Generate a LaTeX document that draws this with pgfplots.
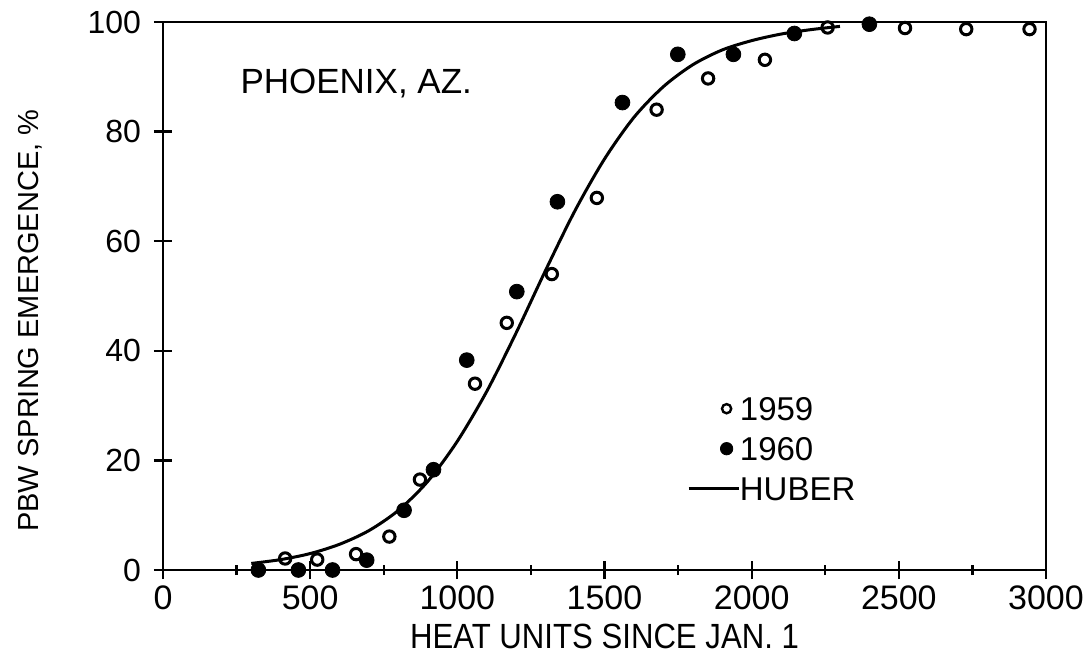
\documentclass[border=0pt]{standalone}
\usepackage{fontspec}
\setmainfont{Liberation Sans}
\usepackage{pgfplots}
\pgfplotsset{compat=1.18}
\begin{document}
\begin{tikzpicture}
\begin{axis}[
  scale only axis,
  width=441.5pt, height=274pt,
  xmin=0, xmax=3000, ymin=0, ymax=100,
  xtick={0,500,...,3000}, minor xtick={250,750,...,2750},
  ytick={0,20,...,100},
  xtick pos=bottom, ytick pos=left,
  tick align=center,
  major tick length=9pt, minor tick length=5pt,
  axis line style={line width=1.3pt},
  every tick/.append style={line width=1.1pt, black},
  /pgf/number format/assume math mode=true,
  /pgf/number format/1000 sep={},
  xticklabel style={font=\fontsize{17}{17}\selectfont},
  yticklabel style={font=\fontsize{16}{16}\selectfont, xshift=-3pt},
  clip=false,
  legend cell align=left,
  legend style={draw=none, fill=none, inner sep=0pt,
    at={(axis cs:1780,31.7)}, anchor=north west,
    row sep=8pt,
    nodes={inner sep=0pt, text height=12pt, text depth=0pt, font=\fontsize{16.5}{16.5}\selectfont},
    /tikz/every even column/.append style={column sep=4pt}},
]
\coordinate (bl) at (rel axis cs:0,0);
\coordinate (tr) at (rel axis cs:1,1);
\addplot[only marks, mark=o, mark size=2.85pt, line width=1.5pt, black,
  legend image code/.code={\draw[only marks, mark=o, mark size=2.3pt, line width=1.2pt, black] plot coordinates {(19pt,0pt)};}]
coordinates {(415,2.1) (524,1.9) (656,2.9) (769,6.1) (873,16.5) (1060,34.0) (1168,45.1) (1321,54.0) (1474,67.9) (1677,84.0) (1852,89.7) (2045,93.1) (2258,99.0) (2521,98.9) (2729,98.7) (2944,98.7)};
\addlegendentry{1959}
\addplot[only marks, mark=*, mark size=3.7pt, black,
  legend image code/.code={\draw[only marks, mark=*, mark size=3.1pt, black] plot coordinates {(19pt,0pt)};}]
coordinates {(324,0) (460,0) (576,0) (692,1.8) (819,10.9) (919,18.3) (1032,38.3) (1202,50.8) (1340,67.2) (1561,85.3) (1749,94.1) (1938,94.1) (2145,97.9) (2400,99.6)};
\addlegendentry{1960}
\addplot[smooth, line width=1.5pt, black,
  legend image code/.code={\draw[line width=1.3pt, black] (0pt,0pt) -- (25pt,0pt);}]
coordinates {(300,1.2) (400,1.9) (500,3.0) (600,4.7) (700,7.2) (800,10.9) (900,16.2) (1000,23.5) (1100,32.6) (1200,43.3) (1300,54.7) (1400,65.6) (1500,75.0) (1600,82.6) (1700,88.2) (1800,92.2) (1900,94.9) (2000,96.6) (2100,97.8) (2200,98.6) (2300,99.2)};
\addlegendentry{HUBER}
\node[anchor=base west, inner sep=0pt, font=\fontsize{17.5}{17.5}\selectfont] at (axis cs:262,86.9) {PHOENIX, AZ.};
\node[rotate=90, anchor=center, inner sep=0pt, font=\fontsize{14.5}{14.5}\selectfont] at ([xshift=-66.5pt]rel axis cs:0,0.455) {PBW SPRING EMERGENCE, \%};
\node[anchor=base, inner sep=0pt, xscale=0.89, font=\fontsize{17.5}{17.5}\selectfont] at ([yshift=-39pt]rel axis cs:0.5,0) {HEAT UNITS SINCE JAN. 1};
\end{axis}
\pgfresetboundingbox
\path ([shift={(-81.5pt,-44.5pt)}]bl) rectangle ([shift={(23pt,11pt)}]tr);
\end{tikzpicture}
\end{document}
